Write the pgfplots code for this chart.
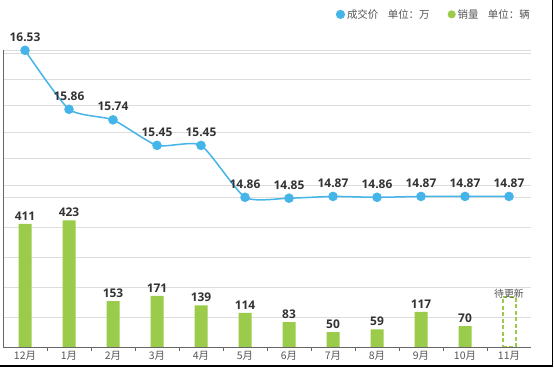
\documentclass[border=0pt]{standalone}
\usepackage{pgfplots}
\pgfplotsset{compat=1.18}
\usepackage{fontspec}
\setmainfont{Noto Sans CJK SC}
\newfontfamily\lab{Open Sans}
\definecolor{cblue}{HTML}{45B4E8}
\definecolor{cgreen}{HTML}{9ACB4B}
\definecolor{cgrid}{HTML}{DDDDDD}
\definecolor{caxis}{HTML}{666666}
\definecolor{ctext}{HTML}{555555}
\definecolor{clab}{HTML}{333333}
\begin{document}
\begin{tikzpicture}[x=1bp,y=1bp]
\path[use as bounding box] (0,0) rectangle (554,369);
\begin{axis}[
  at={(3bp,22bp)}, anchor=south west, scale only axis,
  width=528bp, height=347bp,
  xmin=-0.5, xmax=11.5, ymin=0, ymax=1159,
  axis line style={draw=none},
  /pgf/number format/assume math mode=true,
  ytick={100,200,300,400,500}, yticklabels={}, y tick style={draw=none},
  ymajorgrids, major grid style={draw=cgrid, line width=0.8bp},
  xtick={0,...,11},
  xticklabels={12月,1月,2月,3月,4月,5月,6月,7月,8月,9月,10月,11月},
  x tick style={draw=none}, xtick pos=bottom,
  xticklabel style={font=\fontsize{10.5}{12}\selectfont, text=ctext, yshift=-1bp},
  extra x ticks={0.5,1.5,2.5,3.5,4.5,5.5,6.5,7.5,8.5,9.5,10.5},
  extra x tick labels={},
  extra x tick style={x tick style={draw=caxis, line width=0.8bp}, major tick length=4bp, tick align=outside, xmajorgrids=false},
  clip=false,
]
\addplot[ybar, bar width=13bp, bar shift=0pt, fill=cgreen, draw=none,
  nodes near coords,
  every node near coord/.append style={font=\lab\bfseries\fontsize{12}{12}\selectfont, text=clab, anchor=base, yshift=3.5bp}]
  coordinates {(0,411) (1,423) (2,153) (3,171) (4,139) (5,114) (6,83) (7,50) (8,59) (9,117) (10,70)};
\addplot[ybar, bar width=13bp, bar shift=0pt, fill=none, draw=cgreen, line width=2bp, dash pattern=on 4bp off 2.5bp,
  nodes near coords={待更新},
  every node near coord/.append style={font=\fontsize{10}{12}\selectfont, text=ctext, anchor=center, yshift=3bp, solid}]
  coordinates {(11,167)};
\draw[caxis, line width=1bp] (axis cs:-0.5,0) -- (axis cs:11.5,0);
\end{axis}
\begin{axis}[
  at={(3bp,22bp)}, anchor=south west, scale only axis,
  width=528bp, height=347bp,
  xmin=-0.5, xmax=11.5, ymin=13.159, ymax=17.102,
  axis line style={draw=none},
  /pgf/number format/assume math mode=true,
  /pgf/number format/fixed, /pgf/number format/fixed zerofill, /pgf/number format/precision=2,
  xtick=\empty,
  ytick={15,15.3,15.6,15.9,16.2,16.5,16.53}, yticklabels={}, y tick style={draw=none},
  ymajorgrids, major grid style={draw=cgrid, line width=0.8bp},
  legend columns=2,
  legend style={at={(rel axis cs:1,1)}, anchor=north east, yshift=-7bp, xshift=1bp, draw=none, fill=none,
    font=\fontsize{10.5}{12}\selectfont, text=ctext, inner sep=0pt,
    /tikz/every even column/.append style={column sep=16bp}},
  legend cell align=left,
  clip=false,
]
\draw[caxis, line width=1bp] (axis cs:-0.48,13.159) -- (axis cs:-0.48,16.53);
\addplot[cblue, line width=1.5bp, smooth, tension=0.35, mark=*, mark size=4bp,
  mark options={solid, fill=cblue, draw=none},
  nodes near coords,
  every node near coord/.append style={font=\lab\bfseries\fontsize{12}{12}\selectfont, text=clab, anchor=base, yshift=9bp},
  legend image code/.code={\fill[cblue] (3.5bp,0) circle (3.8bp);}]
  coordinates {(0,16.53) (1,15.86) (2,15.74) (3,15.45) (4,15.45) (5,14.86) (6,14.85) (7,14.87) (8,14.86) (9,14.87) (10,14.87) (11,14.87)};
\addlegendentry{成交价\hspace{0.9em}单位：万}
\addlegendimage{legend image code/.code={\fill[cgreen] (3.5bp,0) circle (3.8bp);}}
\addlegendentry{销量\hspace{0.9em}单位：辆}
\end{axis}
\draw[black, line width=1.5bp] (0,3) -- (552.5,3) -- (552.5,369);
\end{tikzpicture}
\end{document}
